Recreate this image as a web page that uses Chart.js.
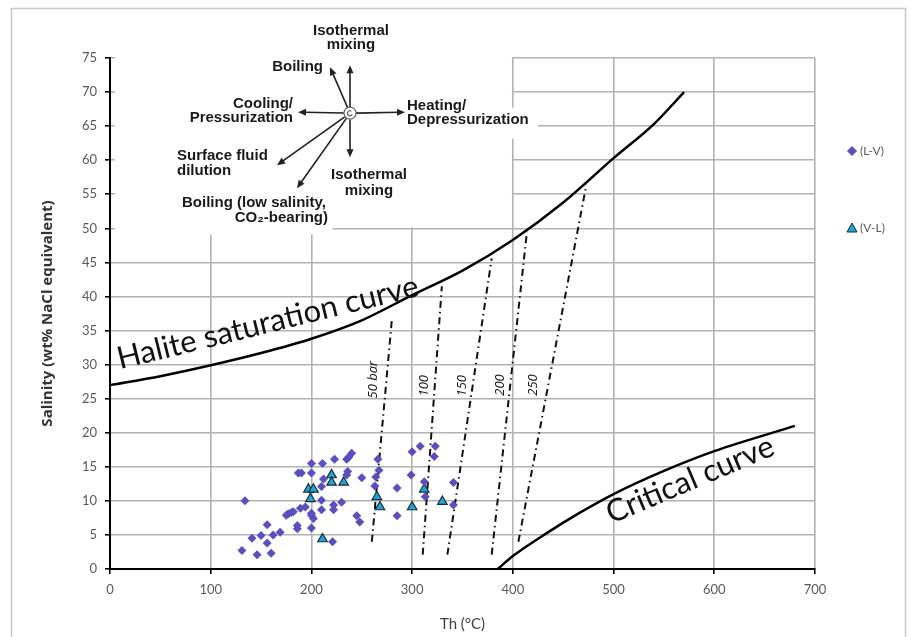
<!DOCTYPE html>
<html>
<head>
<meta charset="utf-8">
<script src="https://cdn.jsdelivr.net/npm/chart.js@4.4.1/dist/chart.umd.min.js"></script>
<style>
  html, body { margin: 0; padding: 0; background: #fff; }
  #wrap { width: 917px; height: 637px; }
</style>
</head>
<body>
<div id="wrap"><canvas id="chart" width="917" height="637"></canvas></div>
<script>
// fluid inclusion data: Th (°C) vs salinity (wt% NaCl eq.)
const lvTemp = [131, 146, 160, 134, 141, 150, 156, 156, 162, 169, 175, 177, 180, 182, 186, 186, 189, 194, 200, 202,
  200, 187, 190, 200, 200, 211, 223, 235, 240, 237, 236, 235, 212, 210, 250, 230, 222, 222, 210, 210,
  200, 245, 248, 221, 266, 267, 264, 263, 285, 285, 300, 308, 299, 312, 313, 323, 322, 341, 341];
const lvSal = [2.7, 2.1, 2.3, 10.0, 4.5, 4.9, 6.5, 3.8, 5.0, 5.4, 7.9, 8.1, 8.3, 8.4, 6.4, 5.9, 8.9, 9.1, 7.9, 7.4,
  6.0, 14.1, 14.1, 15.5, 14.1, 15.5, 16.1, 16.1, 17.0, 16.4, 14.3, 13.8, 13.2, 12.1, 13.4, 9.8, 9.4, 8.7, 10.1, 8.7,
  8.2, 7.8, 6.9, 4.0, 16.1, 14.5, 13.5, 12.2, 11.9, 7.8, 17.2, 18.0, 13.8, 12.8, 10.6, 18.0, 16.5, 12.7, 9.4];

const vlTemp = [197, 202, 199, 220, 220, 232, 211, 265, 268, 300, 312, 330];
const vlSal = [11.7, 11.7, 10.3, 13.8, 12.7, 12.7, 4.4, 10.6, 9.1, 9.1, 11.7, 9.9];

const haliteTemp = [0, 50, 100, 150, 200, 250, 300, 350, 400, 450, 500, 540, 570];
const haliteSal = [27, 28.3, 29.9, 31.7, 33.8, 36.5, 40.2, 43.8, 48.3, 53.8, 60.3, 65.3, 70];

const criticalTemp = [385, 400, 434, 467, 500, 550, 600, 680];
const criticalSal = [0, 1.9, 5.3, 8.3, 11.0, 14.4, 17.3, 21.0];

const isobarNames = ['50 bar', '100', '150', '200', '250'];
const isobarTempLow = [260, 310.5, 335, 379, 405.5];
const isobarSalLow = [4.0, 2.1, 2.1, 2.1, 4.0];
const isobarTempHigh = [280, 329.5, 379, 414, 473];
const isobarSalHigh = [36.8, 41.5, 45.6, 49.5, 56.4];

const toPoints = (xs, ys) => xs.map((x, i) => ({ x: x, y: ys[i] }));

const purple = '#5a4fbf';
const cyan = '#1fa6d8';

const isobarSets = isobarNames.map((name, i) => ({
  label: name,
  data: [{ x: isobarTempLow[i], y: isobarSalLow[i] }, { x: isobarTempHigh[i], y: isobarSalHigh[i] }],
  showLine: true,
  borderColor: '#111',
  borderWidth: 2,
  borderDash: [7, 4, 1.5, 4],
  pointRadius: 0
}));

// where the isobar names sit (data units)
const isobarLabelAt = [[261, 27.8], [312, 26.9], [349.5, 26.9], [388, 27.0], [420, 27.0]];

function arrow(ctx, x0, y0, x1, y1) {
  const a = Math.atan2(y1 - y0, x1 - x0);
  ctx.beginPath();
  ctx.moveTo(x0, y0);
  ctx.lineTo(x1 - 6 * Math.cos(a), y1 - 6 * Math.sin(a));
  ctx.stroke();
  ctx.beginPath();
  ctx.moveTo(x1, y1);
  ctx.lineTo(x1 - 8 * Math.cos(a) + 3.5 * Math.sin(a), y1 - 8 * Math.sin(a) - 3.5 * Math.cos(a));
  ctx.lineTo(x1 - 8 * Math.cos(a) - 3.5 * Math.sin(a), y1 - 8 * Math.sin(a) + 3.5 * Math.cos(a));
  ctx.closePath();
  ctx.fill();
}

const decorations = {
  id: 'decorations',
  beforeDatasetsDraw(chart) {
    const { ctx, scales: { x, y }, chartArea } = chart;
    ctx.save();
    ctx.fillStyle = '#fff';
    // inset diagram background hides the grid
    const left = x.getPixelForValue(0) + 5;
    const right = x.getPixelForValue(400) - 1;
    ctx.fillRect(left, chartArea.top - 1, right - left, y.getPixelForValue(50) - 1 - chartArea.top + 1);
    ctx.fillRect(left, y.getPixelForValue(50) - 2, x.getPixelForValue(221) - left, y.getPixelForValue(49.1) - y.getPixelForValue(50) + 2);
    ctx.fillRect(x.getPixelForValue(294), y.getPixelForValue(67.7), 132, 31);
    ctx.restore();
  },
  afterDatasetsDraw(chart) {
    const { ctx, scales: { x, y } } = chart;
    ctx.save();

    // curve names
    ctx.fillStyle = '#111';
    ctx.font = '31px Lato';
    ctx.textAlign = 'left';
    ctx.textBaseline = 'alphabetic';
    ctx.save();
    ctx.translate(x.getPixelForValue(10), y.getPixelForValue(29.3));
    ctx.rotate(-13.8 * Math.PI / 180);
    ctx.fillText('Halite saturation curve', 0, 0);
    ctx.restore();
    ctx.save();
    ctx.translate(x.getPixelForValue(498), y.getPixelForValue(6.6));
    ctx.rotate(-23 * Math.PI / 180);
    ctx.fillText('Critical curve', 0, 0);
    ctx.restore();

    // isobar names
    ctx.font = 'italic 13px "Open Sans"';
    ctx.textAlign = 'center';
    ctx.textBaseline = 'middle';
    isobarNames.forEach((name, i) => {
      ctx.save();
      ctx.translate(x.getPixelForValue(isobarLabelAt[i][0]), y.getPixelForValue(isobarLabelAt[i][1]));
      ctx.rotate(-Math.PI / 2);
      ctx.fillText(name, 0, 0);
      ctx.restore();
    });

    // inset: fluid evolution trends
    const cx = x.getPixelForValue(238.3);
    const cy = y.getPixelForValue(66.9);
    ctx.strokeStyle = '#222';
    ctx.fillStyle = '#222';
    ctx.lineWidth = 1.6;
    const tips = [[0, -48], [-20, -46], [-52, -1], [55, -1], [0, 44], [-73, 52], [-53, 75]];
    tips.forEach(t => {
      const len = Math.hypot(t[0], t[1]);
      arrow(ctx, cx + 6 * t[0] / len, cy + 6 * t[1] / len, cx + t[0], cy + t[1]);
    });
    ctx.beginPath();
    ctx.fillStyle = '#fff';
    ctx.arc(cx, cy, 6, 0, Math.PI * 2);
    ctx.fill();
    ctx.lineWidth = 1.2;
    ctx.strokeStyle = '#666';
    ctx.stroke();
    ctx.beginPath();
    ctx.arc(cx, cy, 2.5, 0.5, Math.PI * 1.7);
    ctx.stroke();

    ctx.fillStyle = '#1a1a1a';
    ctx.font = 'bold 15px "Liberation Sans"';
    ctx.textBaseline = 'middle';
    const txt = (s, dx, dy, align) => {
      ctx.textAlign = align;
      ctx.fillText(s, cx + dx, cy + dy);
    };
    txt('Isothermal', 1, -82, 'center');
    txt('mixing', 1, -68, 'center');
    txt('Boiling', -27, -46, 'right');
    txt('Cooling/', -57, -9, 'right');
    txt('Pressurization', -57, 5, 'right');
    txt('Heating/', 57, -7, 'left');
    txt('Depressurization', 57, 7, 'left');
    txt('Isothermal', 19, 62, 'center');
    txt('mixing', 19, 78, 'center');
    txt('Surface fluid', -173, 43, 'left');
    txt('dilution', -173, 58, 'left');
    txt('Boiling (low salinity,', -168, 90, 'left');
    txt('CO\u2082-bearing)', -22, 105, 'right');
    ctx.restore();
  },
  afterDraw(chart) {
    const { ctx } = chart;
    ctx.save();
    // legend
    const items = [
      { name: '(L-V)', y: 151, ds: chart.data.datasets[0] },
      { name: '(V-L)', y: 228, ds: chart.data.datasets[1] }
    ];
    ctx.font = '12px Lato';
    ctx.textBaseline = 'middle';
    ctx.textAlign = 'left';
    items.forEach(it => {
      ctx.fillStyle = it.ds.backgroundColor;
      ctx.strokeStyle = it.ds.borderColor || it.ds.backgroundColor;
      ctx.lineWidth = 1;
      ctx.beginPath();
      if (it.ds.pointStyle === 'triangle') {
        ctx.moveTo(852, it.y - 5);
        ctx.lineTo(857, it.y + 4);
        ctx.lineTo(847, it.y + 4);
      } else {
        ctx.moveTo(852, it.y - 4.5);
        ctx.lineTo(856.5, it.y);
        ctx.lineTo(852, it.y + 4.5);
        ctx.lineTo(847.5, it.y);
      }
      ctx.closePath();
      ctx.fill();
      ctx.stroke();
      ctx.fillStyle = '#595959';
      ctx.fillText(it.name, 860, it.y);
    });
    // figure frame
    ctx.strokeStyle = '#c8c8c8';
    ctx.lineWidth = 1.5;
    ctx.strokeRect(11.5, 8.5, 894, 650);
    ctx.restore();
  }
};

new Chart(document.getElementById('chart'), {
  type: 'scatter',
  data: {
    datasets: [
      {
        label: '(L-V)',
        data: toPoints(lvTemp, lvSal),
        pointStyle: 'rectRot',
        backgroundColor: purple,
        borderColor: purple,
        borderWidth: 0,
        pointRadius: 4.5
      },
      {
        label: '(V-L)',
        data: toPoints(vlTemp, vlSal),
        pointStyle: 'triangle',
        backgroundColor: cyan,
        borderColor: '#1b2a33',
        borderWidth: 1.2,
        pointRadius: 5.5
      },
      {
        label: 'Halite saturation curve',
        data: toPoints(haliteTemp, haliteSal),
        showLine: true,
        borderColor: '#000',
        borderWidth: 2.5,
        pointRadius: 0,
        cubicInterpolationMode: 'monotone'
      },
      {
        label: 'Critical curve',
        data: toPoints(criticalTemp, criticalSal),
        showLine: true,
        borderColor: '#000',
        borderWidth: 2.5,
        pointRadius: 0,
        cubicInterpolationMode: 'monotone'
      },
      ...isobarSets
    ]
  },
  options: {
    responsive: false,
    animation: false,
    layout: { padding: { left: 30, right: 102, top: 58, bottom: 2 } },
    plugins: { legend: { display: false }, tooltip: { enabled: false } },
    scales: {
      x: {
        type: 'linear',
        min: 0,
        max: 700,
        ticks: { stepSize: 100, color: '#595959', font: { family: 'Lato', size: 13 }, padding: 8 },
        grid: { color: '#b2b2b2', lineWidth: 1.6, tickColor: '#000', tickLength: 5 },
        border: { color: '#000', width: 2 },
        title: { display: true, text: 'Th (°C)', color: '#404040', font: { family: 'Lato', size: 15 }, padding: { top: 10, bottom: 2 } },
        afterFit(scale) { scale.height = 66; }
      },
      y: {
        min: 0,
        max: 75,
        ticks: { stepSize: 5, color: '#595959', font: { family: 'Lato', size: 13 }, padding: 8 },
        grid: { color: '#b2b2b2', lineWidth: 1.6, tickColor: '#000', tickLength: 5 },
        border: { color: '#000', width: 2 },
        title: {
          display: true,
          text: 'Salinity (wt% NaCl equivalent)',
          color: '#333',
          font: { family: 'Open Sans', size: 15, weight: 'bold' },
          padding: { top: 9, bottom: 4 }
        },
        afterFit(scale) { scale.width = 80; }
      }
    }
  },
  plugins: [decorations]
});
</script>
</body>
</html>
